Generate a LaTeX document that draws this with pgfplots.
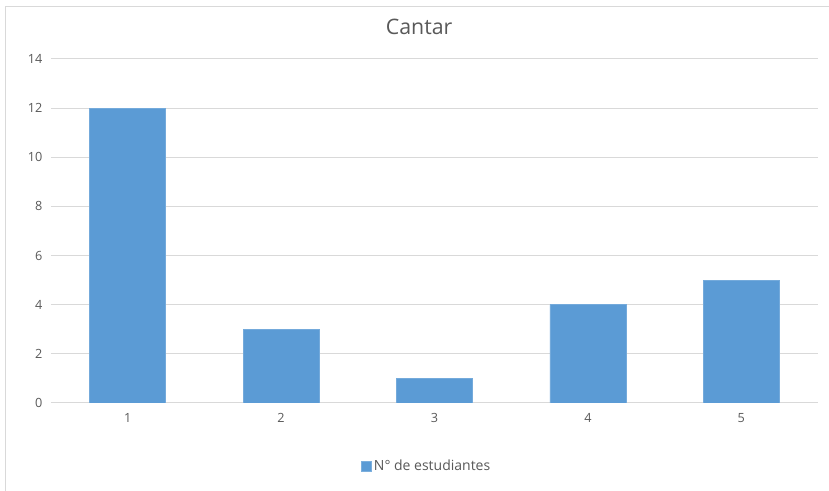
\documentclass[border=0pt]{standalone}
\usepackage{fontspec}
\setmainfont{Open Sans}
\usepackage{pgfplots}
\pgfplotsset{compat=1.18}
\definecolor{barblue}{HTML}{5B9BD5}
\definecolor{gridgray}{HTML}{D9D9D9}
\definecolor{txtgray}{HTML}{595959}

\begin{document}
\begin{tikzpicture}
\useasboundingbox (0pt,0pt) rectangle (621.75pt,368.25pt);
\draw[gridgray, line width=0.75pt] (3.75pt,-5pt) -- (3.75pt,363pt) -- (630pt,363pt);
\begin{axis}[
  at={(38.25pt,66pt)}, anchor=south west,
  scale only axis,
  width=575.25pt, height=258pt,
  ybar, bar width=57pt,
  xmin=0.5, xmax=5.5,
  ymin=0, ymax=14,
  xtick={1,2,3,4,5},
  ytick={0,2,...,14},
  axis x line*=bottom,
  axis y line*=left,
  y axis line style={draw=none},
  x axis line style={gridgray, line width=0.75pt, -},
  ymajorgrids, grid style={gridgray, line width=0.75pt},
  major tick length=0pt,
  tick label style={font=\fontsize{9.5}{10}\selectfont, text=txtgray},
  /pgf/number format/assume math mode=true,
  yticklabel style={xshift=-3pt},
  xticklabel style={yshift=-4pt},
  title={Cantar},
  title style={font=\fontsize{16}{18}\selectfont, text=txtgray, at={(0.48,1)}, anchor=south, yshift=9pt},
  legend style={at={(0.49,-0.15)}, anchor=north, draw=none, font=\fontsize{10.5}{12}\selectfont, text=txtgray, legend cell align=left},
  legend image code/.code={\fill[barblue, draw=barblue!80!white] (0pt,-3.75pt) rectangle (7.5pt,3.75pt);},
]
\addplot[fill=barblue, draw=barblue!85!white] coordinates {(1,12) (2,3) (3,1) (4,4) (5,5)};
\addlegendentry{N° de estudiantes}
\end{axis}
\end{tikzpicture}
\end{document}
